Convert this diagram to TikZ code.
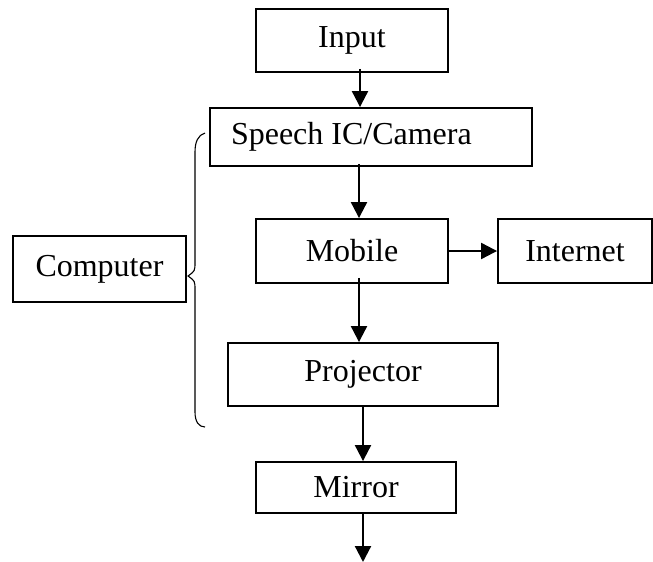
\documentclass[tikz,border=0pt]{standalone}
\usepackage{fontspec}
\setmainfont{Liberation Serif}
\usetikzlibrary{arrows.meta}
\begin{document}
\begin{tikzpicture}[x=1pt,y=-1pt,
  blk/.style={draw,line width=1.9pt,inner sep=0pt,font=\fontsize{32}{38}\selectfont},
  arr/.style={line width=2.2pt,-{Triangle[length=16pt,width=16pt]}}]
\useasboundingbox (0,0) rectangle (653,562);
\node[blk,minimum width=192pt,minimum height=63pt] (input) at (352,40.5) {Input};
\node[blk,minimum width=322pt,minimum height=58pt] (speech) at (371,137) {\makebox[322pt][l]{\hspace{21pt}Speech IC/Camera}};
\node[blk,minimum width=192pt,minimum height=64pt] (mobile) at (352,251) {Mobile};
\node[blk,minimum width=154pt,minimum height=64pt] (internet) at (575,251) {Internet};
\node[blk,minimum width=270pt,minimum height=63pt] (projector) at (363,374.5) {Projector};
\node[blk,minimum width=200pt,minimum height=51pt] (mirror) at (356,487.5) {Mirror};
\node[blk,minimum width=173pt,minimum height=66pt] (computer) at (99.5,269) {Computer};
\coordinate (end) at (363,562);
\draw[arr] ([xshift=8pt,yshift=4pt]input.south) -- ([xshift=8pt]input.south |- speech.north);
\draw[arr] ([xshift=7pt,yshift=3pt]mobile.north |- speech.south) -- ([xshift=7pt]mobile.north);
\draw[arr] (mobile.east) -- (internet.west);
\draw[arr] ([xshift=7pt,yshift=6pt]mobile.south) -- ([xshift=7pt]mobile.south |- projector.north);
\draw[arr] (projector.south) -- (projector.south |- mirror.north);
\draw[arr] (end |- mirror.south) -- (end);
\draw[line width=1.1pt] (205,133) .. controls (198,135) and (195,142) .. (195,152) -- (195,262)
  .. controls (195,271) .. (188,276) .. controls (195,281) .. (195,290) -- (195,412)
  .. controls (195,422) and (199,427) .. (205,427);
\end{tikzpicture}
\end{document}
